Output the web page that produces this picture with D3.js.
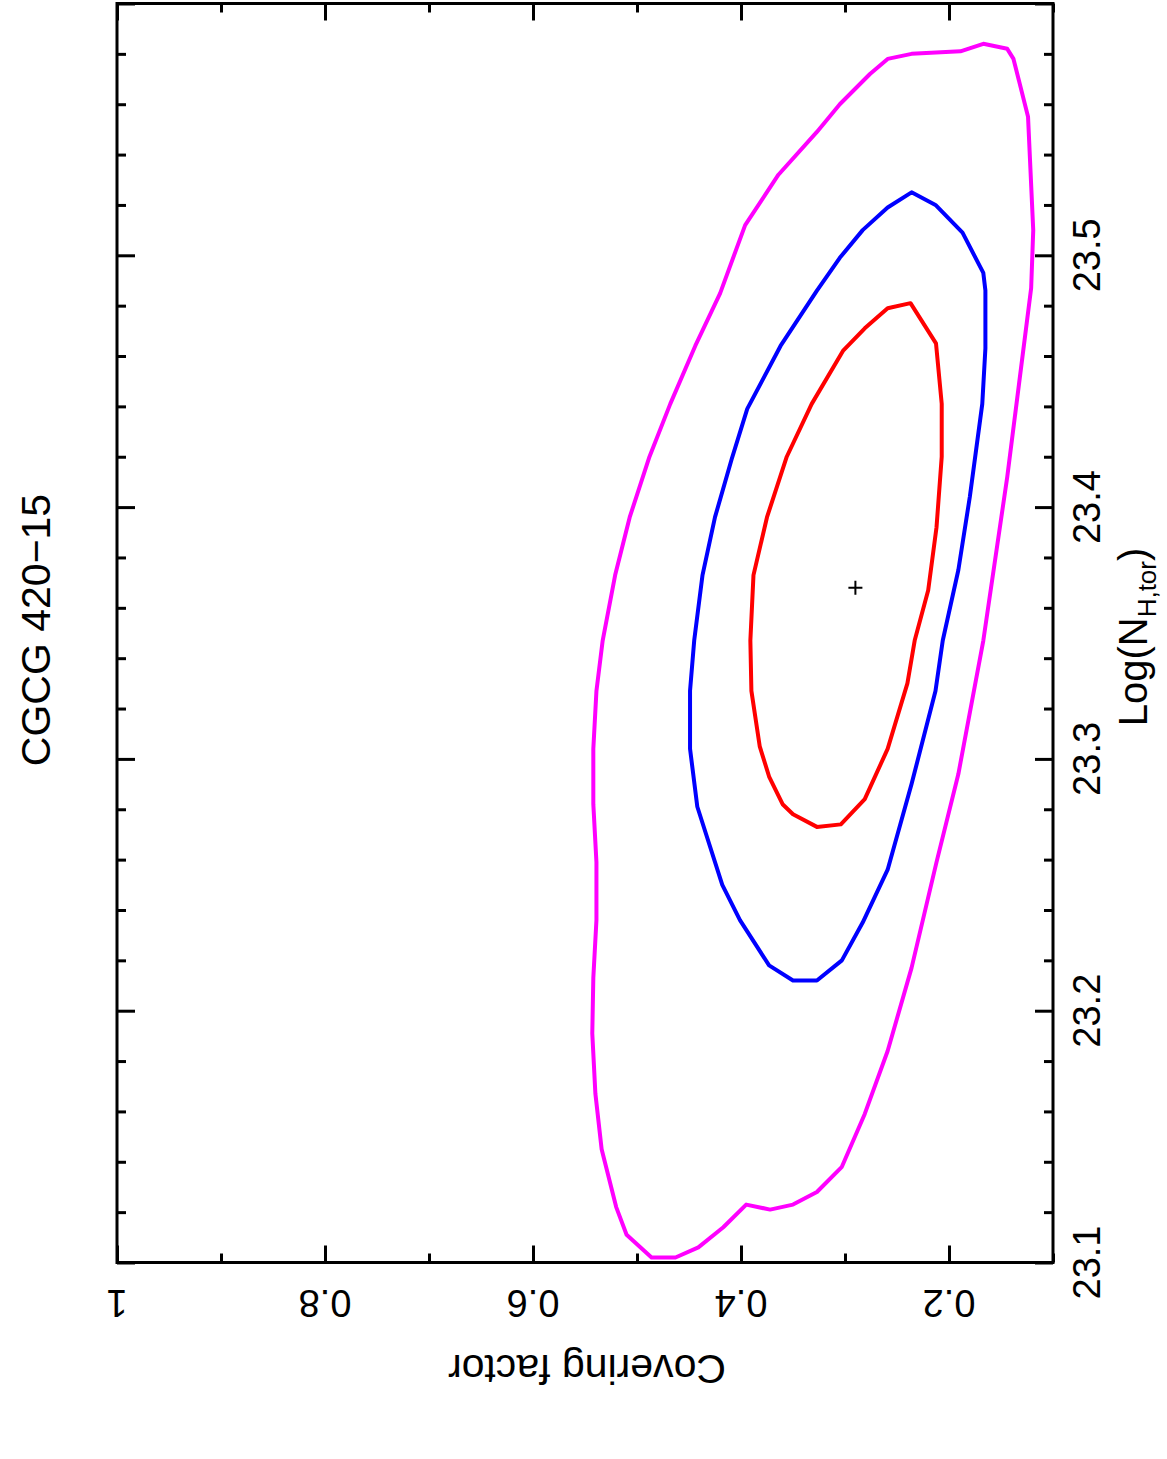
<!DOCTYPE html>
<html>
<head>
<meta charset="utf-8">
<script src="https://cdn.jsdelivr.net/npm/d3@7"></script>
<style>
body { margin: 0; background: #fff; }
text { font-family: "Liberation Sans", Arial, Helvetica, sans-serif; fill: #000; }
</style>
</head>
<body>
<script>
// contour levels, each point is [covering factor, log NH]
var contourMagenta = [
	[0.276, 23.572], [0.259, 23.578], [0.236, 23.580], [0.189, 23.581], [0.167, 23.584],
	[0.144, 23.582], [0.138, 23.578], [0.124, 23.555], [0.119, 23.510], [0.121, 23.487],
	[0.144, 23.412], [0.167, 23.347], [0.191, 23.294], [0.212, 23.259], [0.236, 23.217],
	[0.259, 23.184], [0.281, 23.159], [0.303, 23.138], [0.327, 23.128], [0.350, 23.123],
	[0.372, 23.121], [0.395, 23.123], [0.417, 23.114], [0.441, 23.106], [0.463, 23.102],
	[0.486, 23.102], [0.510, 23.111], [0.520, 23.122], [0.534, 23.145], [0.540, 23.167],
	[0.543, 23.191], [0.542, 23.213], [0.539, 23.236], [0.539, 23.259], [0.542, 23.282],
	[0.542, 23.304], [0.539, 23.327], [0.533, 23.347], [0.521, 23.373], [0.507, 23.396],
	[0.488, 23.420], [0.468, 23.441], [0.444, 23.464], [0.420, 23.485], [0.396, 23.512],
	[0.364, 23.532], [0.327, 23.549], [0.305, 23.560]
];
var contourBlue = [
	[0.236, 23.525], [0.213, 23.520], [0.187, 23.509], [0.167, 23.493], [0.165, 23.486],
	[0.165, 23.463], [0.168, 23.441], [0.180, 23.404], [0.191, 23.375], [0.206, 23.347],
	[0.213, 23.327], [0.236, 23.290], [0.259, 23.256], [0.283, 23.235], [0.303, 23.220],
	[0.327, 23.212], [0.350, 23.212], [0.373, 23.218], [0.401, 23.236], [0.418, 23.250],
	[0.442, 23.281], [0.449, 23.304], [0.449, 23.327], [0.445, 23.347], [0.437, 23.373],
	[0.425, 23.396], [0.409, 23.419], [0.394, 23.439], [0.362, 23.464], [0.327, 23.486],
	[0.305, 23.499], [0.283, 23.510], [0.259, 23.519]
];
var contourRed = [
	[0.237, 23.481], [0.2125, 23.465], [0.207, 23.441], [0.207, 23.420], [0.212, 23.392],
	[0.220, 23.367], [0.233, 23.347], [0.240, 23.330], [0.259, 23.304], [0.281, 23.284],
	[0.304, 23.274], [0.327, 23.273], [0.350, 23.278], [0.360, 23.282], [0.373, 23.293],
	[0.382, 23.305], [0.390, 23.327], [0.391, 23.347], [0.388, 23.373], [0.375, 23.396],
	[0.356, 23.420], [0.332, 23.441], [0.302, 23.462], [0.281, 23.471], [0.259, 23.479]
];
var bestFit = [0.290, 23.368];

var cfMajor = [1, 0.8, 0.6, 0.4, 0.2];
var cfMinor = [0.9, 0.7, 0.5, 0.3, 0.1];
var cfLabels = ["1", "0.8", "0.6", "0.4", "0.2"];
var nhMajor = [23.1, 23.2, 23.3, 23.4, 23.5, 23.6];
var nhMinor = [23.12, 23.14, 23.16, 23.18, 23.22, 23.24, 23.26, 23.28, 23.32, 23.34, 23.36, 23.38,
	23.42, 23.44, 23.46, 23.48, 23.52, 23.54, 23.56, 23.58];
var nhLabels = ["23.1", "23.2", "23.3", "23.4", "23.5"];

var width = 1167, height = 1459;
var frameL = 117, frameR = 1053, frameT = 3.5, frameB = 1262.5;

var svg = d3.select("body").append("svg")
	.attr("width", width)
	.attr("height", height);

var x = d3.scaleLinear().domain([1, 0.1]).range([frameL, frameR]);
var y = d3.scaleLinear().domain([23.1, 23.6]).range([frameB, frameT]);

// ticks on all four sides, pointing inwards
function ticks(axisFn, scale, vals, size, tx, ty)
{
	var g = svg.append("g")
		.attr("transform", "translate(" + tx + "," + ty + ")")
		.call(axisFn(scale).tickValues(vals).tickSizeInner(-size).tickSizeOuter(0).tickFormat(""));
	g.select(".domain").remove();
	g.selectAll("line").attr("stroke", "#000").attr("stroke-width", 3);
}
ticks(d3.axisBottom, x, cfMajor, 17, 0, frameB);
ticks(d3.axisBottom, x, cfMinor, 9, 0, frameB);
ticks(d3.axisTop, x, cfMajor, 17, 0, frameT);
ticks(d3.axisTop, x, cfMinor, 9, 0, frameT);
ticks(d3.axisLeft, y, nhMajor, 18, frameL, 0);
ticks(d3.axisLeft, y, nhMinor, 9, frameL, 0);
ticks(d3.axisRight, y, nhMajor, 18, frameR, 0);
ticks(d3.axisRight, y, nhMinor, 9, frameR, 0);

svg.append("rect")
	.attr("x", frameL).attr("y", frameT)
	.attr("width", frameR - frameL).attr("height", frameB - frameT)
	.attr("fill", "none").attr("stroke", "#000").attr("stroke-width", 3);

// tick labels (the page is rotated)
svg.selectAll(".cflab").data(cfMajor).enter().append("text")
	.attr("transform", function (d) { return "translate(" + x(d) + "," + 1290 + ") rotate(180)"; })
	.attr("text-anchor", "middle")
	.style("font-size", "38px")
	.text(function (d, i) { return cfLabels[i]; });

svg.selectAll(".nhlab").data(nhLabels).enter().append("text")
	.attr("transform", function (d, i) { return "translate(" + 1100 + "," + y(nhMajor[i]) + ") rotate(-90)"; })
	.attr("text-anchor", "middle")
	.style("font-size", "38px")
	.text(function (d) { return d; });

// contours
var line = d3.line()
	.x(function (d) { return x(d[0]); })
	.y(function (d) { return y(d[1]); })
	.curve(d3.curveLinearClosed);

var levels = [[contourMagenta, "#ff00ff"], [contourBlue, "#0000ff"], [contourRed, "#ff0000"]];
levels.forEach(function (lv) {
	svg.append("path")
		.attr("d", line(lv[0]))
		.attr("fill", "none")
		.attr("stroke", lv[1])
		.attr("stroke-width", 4)
		.attr("stroke-linejoin", "round");
});

// best fit cross
var bx = x(bestFit[0]), by = y(bestFit[1]);
svg.append("path")
	.attr("d", "M" + (bx - 7) + "," + by + "H" + (bx + 7) + "M" + bx + "," + (by - 7) + "V" + (by + 7))
	.attr("stroke", "#000").attr("stroke-width", 2);

// axis titles
var ylab = svg.append("text")
	.attr("transform", "translate(1147,637) rotate(-90)")
	.attr("text-anchor", "middle")
	.style("font-size", "40px");
ylab.append("tspan").text("Log(N");
ylab.append("tspan").attr("dy", 9).style("font-size", "26px").text("H,tor");
ylab.append("tspan").attr("dy", -9).text(")");

svg.append("text")
	.attr("transform", "translate(587,1355) rotate(180)")
	.attr("text-anchor", "middle")
	.style("font-size", "41px")
	.text("Covering factor");

svg.append("text")
	.attr("transform", "translate(50,630) rotate(-90)")
	.attr("text-anchor", "middle")
	.style("font-size", "41px")
	.text("CGCG 420\u221215");
</script>
</body>
</html>
